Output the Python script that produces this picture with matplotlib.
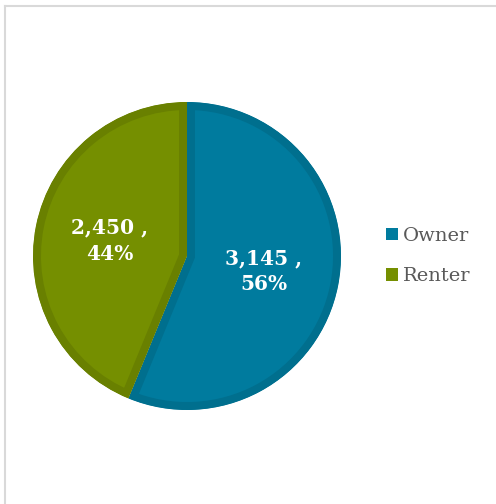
import matplotlib
matplotlib.use("Agg")
import matplotlib.pyplot as plt
from matplotlib.patches import Patch
from matplotlib.lines import Line2D
import numpy as np

categories = ["Owner", "Renter"]
values = [3145, 2450]
percents = ["56%", "44%"]
colors = ["#007B9E", "#758F00"]
edge_colors = ["#006F8E", "#698000"]

W, H = 496, 504
fig = plt.figure(figsize=(W / 100, H / 100), dpi=100)
fig.patch.set_facecolor("white")

cx, cy, r = 187, 256, 154
ax = fig.add_axes([(cx - r) / W, (H - cy - r) / H, 2 * r / W, 2 * r / H])

wedges, _ = ax.pie(values, colors=colors, startangle=90, counterclock=False,
                   radius=1.0, center=(0, 0), frame=False)
ax.set_xlim(-1, 1)
ax.set_ylim(-1, 1)
ax.set_aspect("auto")
ax.axis("off")
for w, ec in zip(wedges, edge_colors):
    w.set_edgecolor(ec)
    w.set_linewidth(11.5)
    w.set_clip_on(True)
    w.set_clip_path(w)

for w, v, p in zip(wedges, values, percents):
    ang = np.deg2rad((w.theta1 + w.theta2) / 2)
    x, y = 0.51 * np.cos(ang), 0.51 * np.sin(ang)
    ax.text(x, y, f"{v:,} ,\n{p}", ha="center", va="center", color="white",
            fontsize=14.5, fontweight="bold", family="DejaVu Serif",
            linespacing=1.4)

handles = [Patch(facecolor=c, edgecolor="none") for c in colors]
fig.legend(handles, categories, loc="center left",
           bbox_to_anchor=(368 / W, 1 - 256 / H), frameon=False,
           handlelength=0.65, handleheight=0.65, handletextpad=0.25,
           labelspacing=1.15, prop={"family": "DejaVu Serif", "size": 14},
           labelcolor="#595959")

# chart border (top and left visible)
fig.add_artist(Line2D([4.5 / W, 4.5 / W], [0, 1 - 5.5 / H], transform=fig.transFigure,
                      color="#D9D9D9", linewidth=1.5))
fig.add_artist(Line2D([4.5 / W, 1], [1 - 5.5 / H, 1 - 5.5 / H], transform=fig.transFigure,
                      color="#D9D9D9", linewidth=1.5))

fig.savefig("out.png", dpi=100, facecolor="white")
